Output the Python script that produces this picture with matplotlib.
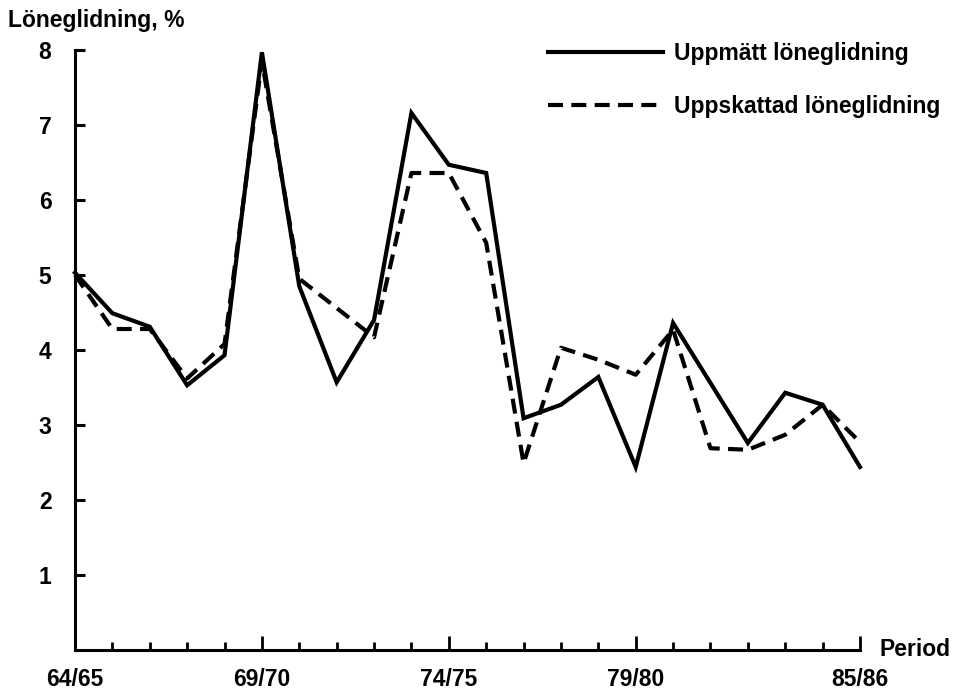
import matplotlib
matplotlib.use("Agg")
import matplotlib.pyplot as plt
from matplotlib.ticker import FixedLocator

plt.rcParams['font.family'] = ['Liberation Sans', 'DejaVu Sans']
plt.rcParams['font.weight'] = 'bold'

periods = ["64/65", "65/66", "66/67", "67/68", "68/69", "69/70", "70/71", "71/72",
           "72/73", "73/74", "74/75", "75/76", "76/77", "77/78", "78/79", "79/80",
           "80/81", "81/82", "82/83", "83/84", "84/85", "85/86"]
uppmatt = [5.03, 4.49, 4.31, 3.53, 3.93, 7.97, 4.85, 3.57, 4.40, 7.16, 6.47, 6.36,
           3.09, 3.27, 3.64, 2.44, 4.36, 3.56, 2.76, 3.43, 3.27, 2.44]
uppskattad = [5.00, 4.28, 4.28, 3.62, 4.08, 7.85, 4.95, 4.56, 4.17, 6.36, 6.36, 5.43,
              2.49, 4.03, 3.87, 3.67, 4.27, 2.69, 2.67, 2.87, 3.27, 2.77]
labeled = ["64/65", "69/70", "74/75", "79/80", "85/86"]
yticks = [1, 2, 3, 4, 5, 6, 7, 8]

fig = plt.figure(figsize=(9.58, 6.92), dpi=100)
ax = fig.add_axes([75/958, 1 - 650/692, (860 - 75)/958, 600/692])

x = list(range(len(periods)))
ax.plot(x, uppmatt, color='black', lw=3.0, solid_joinstyle='miter',
        label='Uppmätt löneglidning', clip_on=False)
ax.plot(x, uppskattad, color='black', lw=3.0, dashes=(3.6, 2.0),
        label='Uppskattad löneglidning', clip_on=False)

ax.set_xlim(0, len(periods) - 1)
ax.set_ylim(0, 8)
for s in ['top', 'right']:
    ax.spines[s].set_visible(False)
for s in ['left', 'bottom']:
    ax.spines[s].set_linewidth(2.2)

major_idx = [periods.index(p) for p in labeled]
ax.xaxis.set_major_locator(FixedLocator(major_idx))
ax.set_xticklabels(labeled)
ax.xaxis.set_minor_locator(FixedLocator([i for i in x if i not in major_idx]))
ax.tick_params(axis='x', which='major', direction='in', length=10, width=2.0,
               pad=13, labelsize=16.5)
ax.tick_params(axis='x', which='minor', direction='in', length=5.5, width=2.0)
ax.set_yticks(yticks)
ax.tick_params(axis='y', which='major', direction='in', length=7, width=2.2,
               pad=17, labelsize=16.5)

ax.annotate('Period', xy=(1, 0), xycoords='axes fraction', xytext=(14, 0),
            textcoords='offset points', va='center', ha='left', fontsize=16.5)
fig.text(8/958, 1 - 27/692, 'Löneglidning, %', fontsize=16.5, va='baseline', ha='left')

ax.legend(loc='upper left', bbox_to_anchor=(548/958, 1 - 42/692),
          bbox_transform=fig.transFigure, frameon=False, fontsize=16.5,
          handlelength=5.0, handletextpad=0.5, labelspacing=1.3,
          borderpad=0, borderaxespad=0)

fig.savefig('out.png', dpi=100)
